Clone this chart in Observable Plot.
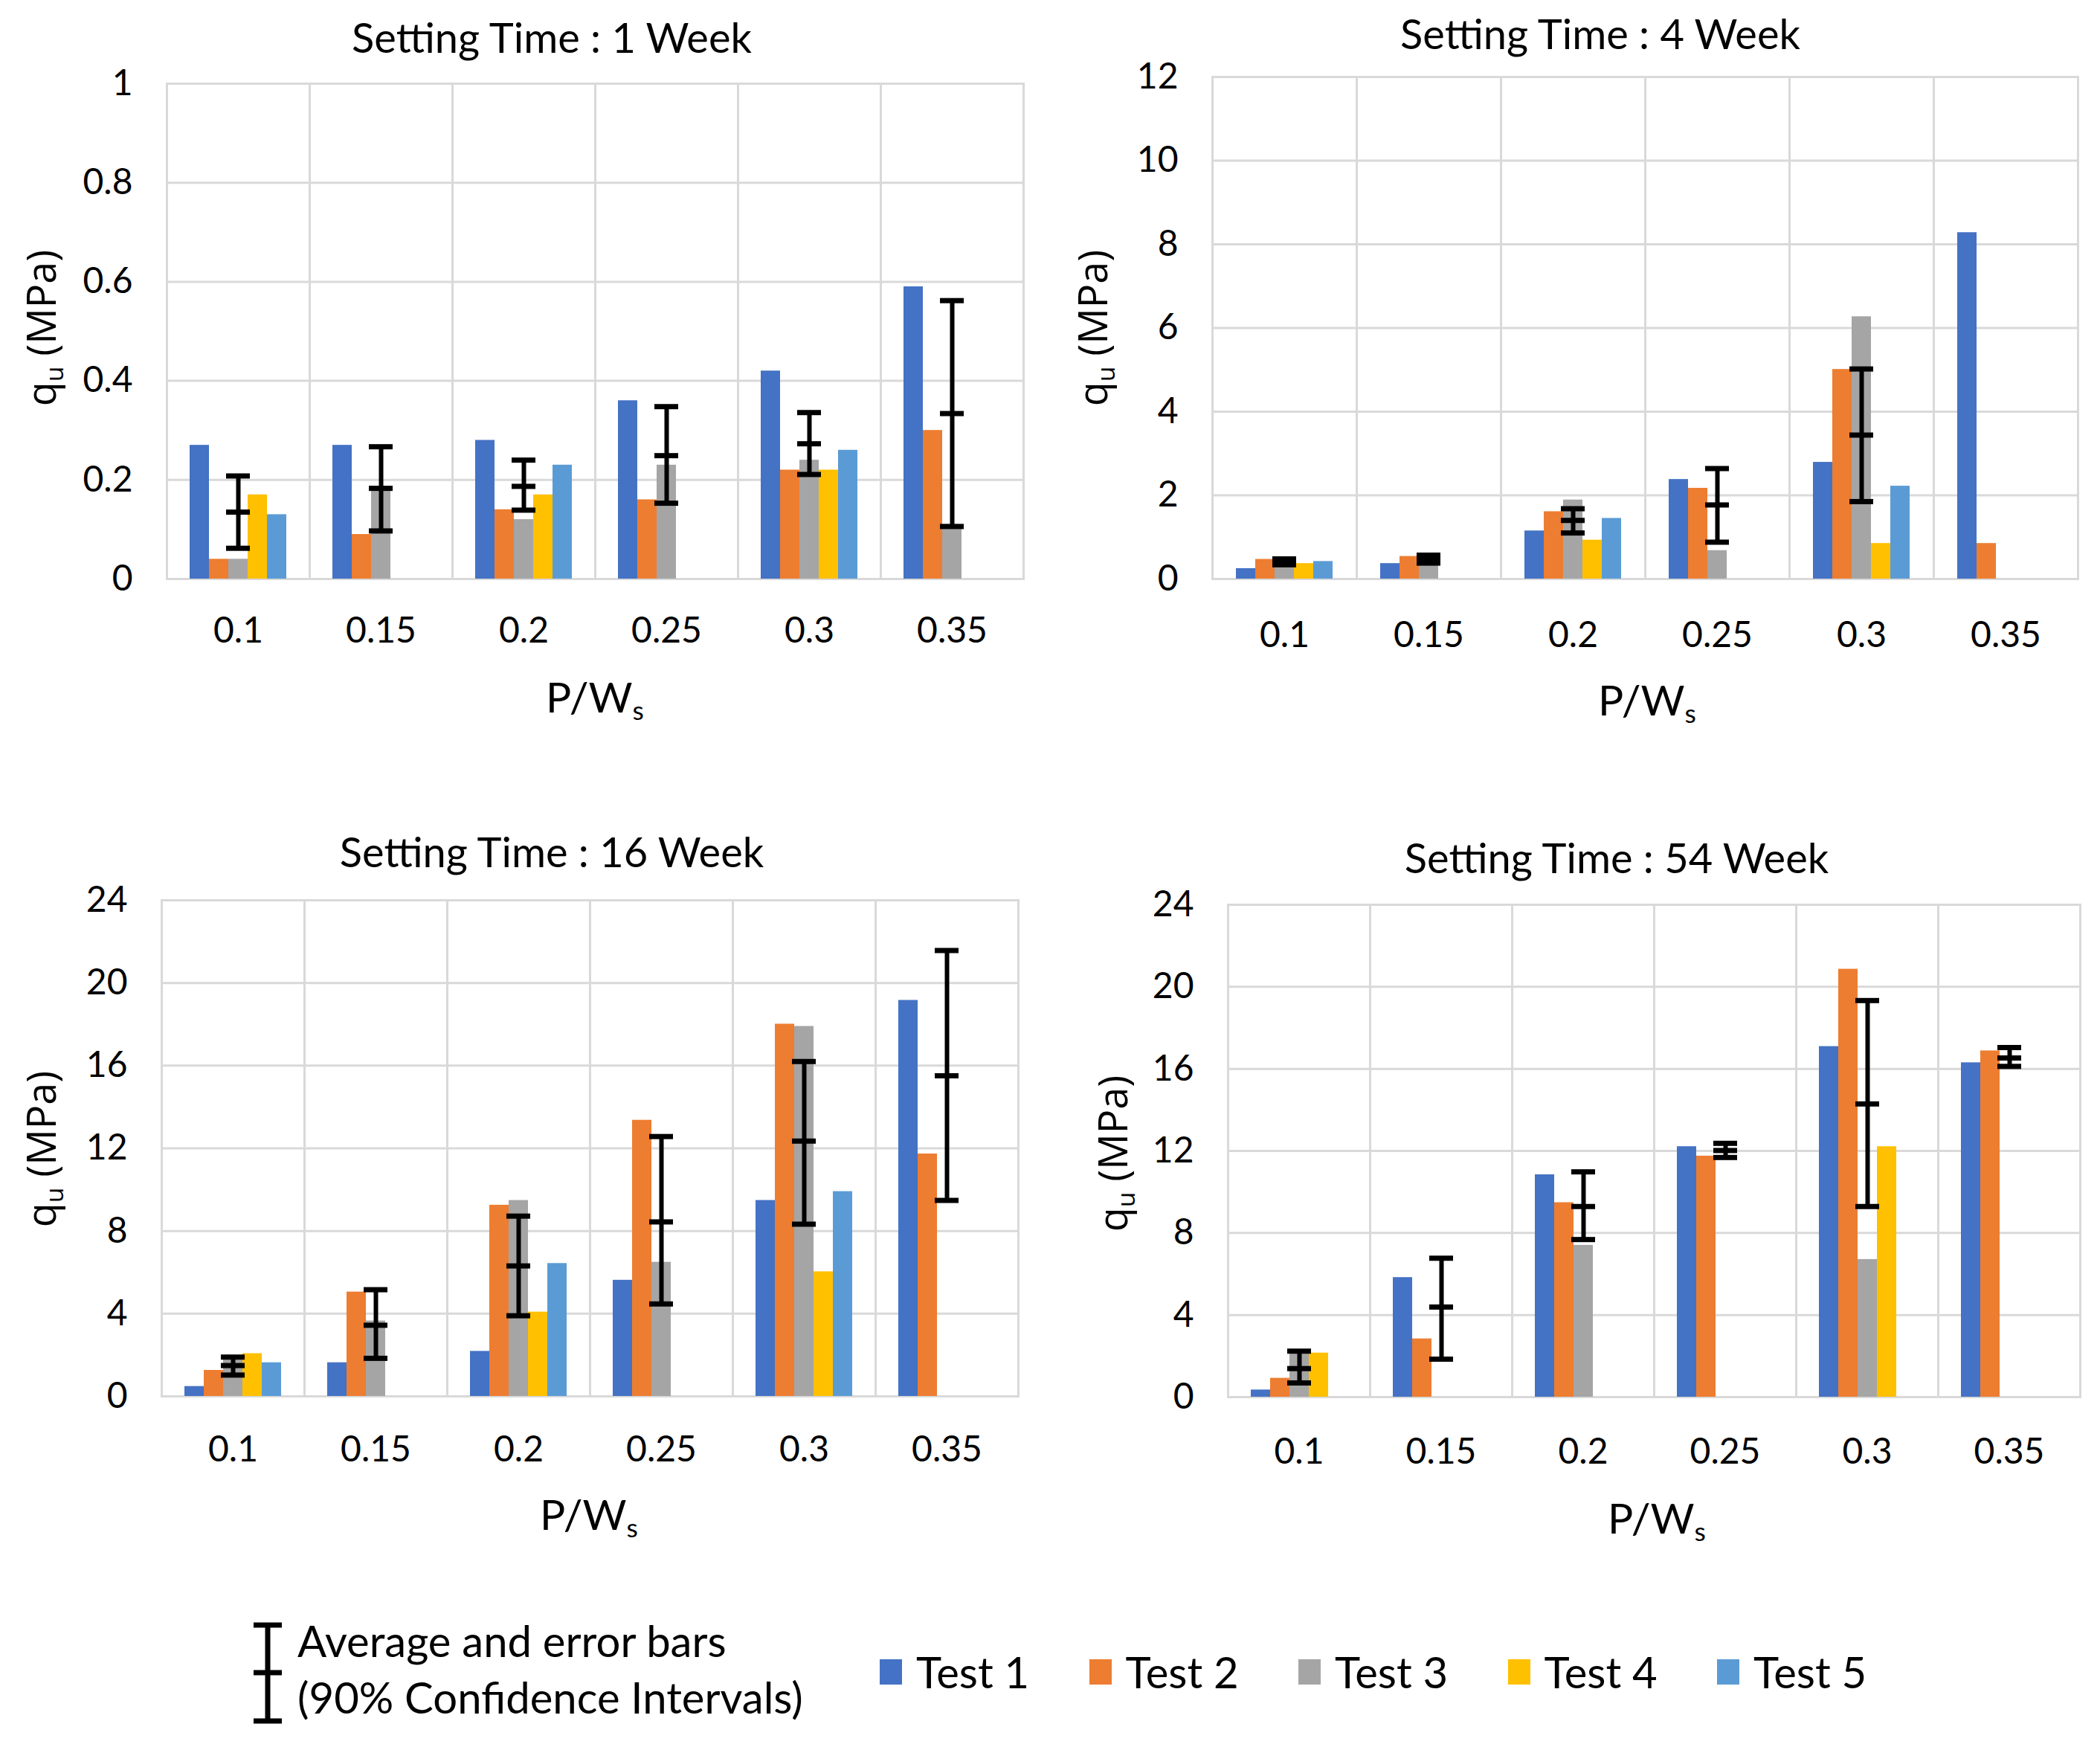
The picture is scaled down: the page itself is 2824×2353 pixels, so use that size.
<!DOCTYPE html>
<html><head><meta charset="utf-8">
<script src="https://cdn.jsdelivr.net/npm/d3@7"></script>
<script src="https://cdn.jsdelivr.net/npm/@observablehq/plot@0.6"></script>
<style>
body{margin:0;background:#fff;}
#wrap{position:relative;width:2824px;height:2353px;background:#fff;overflow:hidden;font-family:Lato,sans-serif;color:#000;}
.abs{position:absolute;white-space:nowrap;line-height:1;}
.title{font-size:56px;transform:translate(-50%,-50%);}
.xt{font-size:57px;transform:translate(-50%,-50%);}
.yt{font-family:"Open Sans",sans-serif;font-size:54px;transform:translate(-50%,-50%) rotate(-90deg);}
sub{font-size:0.62em;vertical-align:-0.3em;line-height:0;}
.panel{position:absolute;}
.leg{font-size:58px;}
.sw{position:absolute;width:30px;height:34px;}
</style></head><body><div id="wrap"></div>
<script>
const categories = ["0.1", "0.15", "0.2", "0.25", "0.3", "0.35"];
const tests = ["Test 1", "Test 2", "Test 3", "Test 4", "Test 5"];
const testColors = ["#4472C4", "#ED7D31", "#A5A5A5", "#FFC000", "#5B9BD5"];

// q_u (MPa) per P/Ws category: [Test 1 .. Test 5], null = not tested
const week1 = [
  [0.27, 0.04, 0.04, 0.17, 0.13],
  [0.27, 0.09, 0.18, null, null],
  [0.28, 0.14, 0.12, 0.17, 0.23],
  [0.36, 0.16, 0.23, null, null],
  [0.42, 0.22, 0.24, 0.22, 0.26],
  [0.59, 0.30, 0.11, null, null]
];
const week4 = [
  [0.25, 0.47, 0.45, 0.37, 0.42],
  [0.37, 0.54, 0.50, null, null],
  [1.15, 1.61, 1.89, 0.93, 1.45],
  [2.38, 2.17, 0.68, null, null],
  [2.79, 5.01, 6.27, 0.85, 2.22],
  [8.28, 0.85, null, null, null]
];
const week16 = [
  [0.48, 1.26, 1.8, 2.07, 1.63],
  [1.63, 5.05, 3.65, null, null],
  [2.18, 9.25, 9.48, 4.08, 6.43],
  [5.62, 13.36, 6.49, null, null],
  [9.48, 18.01, 17.90, 6.03, 9.91],
  [19.16, 11.73, null, null, null]
];
const week54 = [
  [0.35, 0.92, 2.1, 2.15, null],
  [5.83, 2.84, null, null, null],
  [10.84, 9.48, 7.40, null, null],
  [12.21, 11.75, null, null, null],
  [17.09, 20.86, 6.71, 12.21, null],
  [16.30, 16.88, null, null, null]
];

// average and 90% confidence interval: [low, mean, high]
const week1Err = [[0.062, 0.135, 0.208], [0.097, 0.183, 0.267], [0.139, 0.187, 0.240], [0.153, 0.249, 0.348], [0.211, 0.273, 0.336], [0.106, 0.334, 0.562]];
const week4Err = [[0.34, 0.41, 0.48], [0.38, 0.47, 0.57], [1.10, 1.40, 1.68], [0.88, 1.77, 2.64], [1.85, 3.44, 5.02], null];
const week16Err = [[1.03, 1.49, 1.90], [1.84, 3.44, 5.16], [3.90, 6.31, 8.72], [4.47, 8.44, 12.57], [8.33, 12.35, 16.2], [9.48, 15.51, 21.57]];
const week54Err = [[0.69, 1.39, 2.24], [1.85, 4.39, 6.77], [7.68, 9.29, 10.98], [11.68, 12.02, 12.37], [9.29, 14.29, 19.33], [16.12, 16.53, 17.04]];

const ticks1 = [0, 0.2, 0.4, 0.6, 0.8, 1];
const ticks4 = [0, 2, 4, 6, 8, 10, 12];
const ticks16 = [0, 4, 8, 12, 16, 20, 24];
const ticks54 = [0, 4, 8, 12, 16, 20, 24];

const titles = ["Setting Time : 1 Week", "Setting Time : 4 Week", "Setting Time : 16 Week", "Setting Time : 54 Week"];

const panels = [
  {values: week1, err: week1Err, ticks: ticks1, title: titles[0], left: 0, top: 0, ml: 222, mr: 34, mt: 112, mb: 222, fxPad: 51,
   titlePos: [742, 50], yPos: [54, 441], xPos: [800, 936]},
  {values: week4, err: week4Err, ticks: ticks4, title: titles[1], left: 1412, top: 0, ml: 216, mr: 29, mt: 103, mb: 222, fxPad: 57,
   titlePos: [2152, 45], yPos: [1468, 441], xPos: [2215, 940]},
  {values: week16, err: week16Err, ticks: ticks16, title: titles[2], left: 0, top: 1100, ml: 215, mr: 42, mt: 110, mb: 223, fxPad: 53,
   titlePos: [742, 1145], yPos: [54, 1545], xPos: [792, 2035]},
  {values: week54, err: week54Err, ticks: ticks54, title: titles[3], left: 1412, top: 1100, ml: 238, mr: 27, mt: 116, mb: 222, fxPad: 55,
   titlePos: [2174, 1153], yPos: [1495, 1551], xPos: [2228, 2040]}
];

const wrap = document.getElementById("wrap");
const fmt = d => String(+(+d).toFixed(2));

function addText(cls, pos, html) {
  const el = document.createElement("div");
  el.className = "abs " + cls;
  el.style.left = pos[0] + "px";
  el.style.top = pos[1] + "px";
  el.innerHTML = html;
  wrap.appendChild(el);
}

for (const p of panels) {
  const bars = [];
  p.values.forEach((row, i) => row.forEach((v, j) => {
    if (v != null) bars.push({cat: categories[i], test: tests[j], value: v});
  }));
  const errs = [];
  p.err.forEach((e, i) => { if (e) errs.push({cat: categories[i], low: e[0], mean: e[1], high: e[2]}); });
  const mid = () => tests[2];
  const chart = Plot.plot({
    width: 1412, height: 1000,
    marginLeft: p.ml, marginRight: p.mr, marginTop: p.mt, marginBottom: p.mb,
    style: {fontFamily: "Lato, sans-serif", fontSize: "48px", color: "#000", background: "transparent", overflow: "visible"},
    fx: {domain: categories, padding: 0, label: null, tickSize: 0, tickPadding: p.fxPad},
    x: {domain: tests, paddingInner: 0, paddingOuter: 1.12, axis: null},
    y: {domain: [0, p.ticks[p.ticks.length - 1]], axis: null},
    color: {domain: tests, range: testColors},
    marks: [
      Plot.gridY(p.ticks, {stroke: "#d9d9d9", strokeOpacity: 1, strokeWidth: 3}),
      Plot.frame({stroke: "#d9d9d9", strokeWidth: 3}),
      Plot.axisY(p.ticks, {tickSize: 0, tickPadding: 46, label: null, tickFormat: fmt, fontSize: 48}),
      Plot.barY(bars, {fx: "cat", x: "test", y: "value", fill: "test"}),
      Plot.ruleX(errs, {fx: "cat", x: mid, y1: "low", y2: "high", stroke: "#000", strokeWidth: 6}),
      Plot.tickY(errs, {fx: "cat", x: mid, y: "low", stroke: "#000", strokeWidth: 7, insetLeft: -3, insetRight: -3}),
      Plot.tickY(errs, {fx: "cat", x: mid, y: "mean", stroke: "#000", strokeWidth: 7, insetLeft: -3, insetRight: -3}),
      Plot.tickY(errs, {fx: "cat", x: mid, y: "high", stroke: "#000", strokeWidth: 7, insetLeft: -3, insetRight: -3})
    ]
  });
  const holder = document.createElement("div");
  holder.className = "panel";
  holder.style.left = p.left + "px";
  holder.style.top = p.top + "px";
  holder.appendChild(chart);
  wrap.appendChild(holder);
  addText("title", p.titlePos, p.title);
  addText("yt", p.yPos, "q<sub>u</sub> (MPa)");
  addText("xt", p.xPos, "P/W<sub>s</sub>");
}

// legend
const errIcon = document.createElement("div");
errIcon.className = "abs";
errIcon.style.left = "340px";
errIcon.style.top = "2180px";
errIcon.innerHTML = '<svg width="40" height="140" viewBox="0 0 40 140"><g stroke="#000" stroke-width="7"><line x1="20" y1="5" x2="20" y2="134"/><line x1="1" y1="5" x2="39" y2="5"/><line x1="1" y1="69" x2="39" y2="69"/><line x1="1" y1="134" x2="39" y2="134"/></g></svg>';
wrap.appendChild(errIcon);
const l1 = document.createElement("div");
l1.className = "abs leg"; l1.style.left = "400px"; l1.style.top = "2206px"; l1.style.transform = "translateY(-50%)";
l1.textContent = "Average and error bars";
wrap.appendChild(l1);
const l2 = document.createElement("div");
l2.className = "abs leg"; l2.style.left = "400px"; l2.style.top = "2282px"; l2.style.transform = "translateY(-50%)";
l2.textContent = "(90% Confidence Intervals)";
wrap.appendChild(l2);
tests.forEach((t, i) => {
  const x = 1183 + i * 281.5;
  const sw = document.createElement("div");
  sw.className = "sw"; sw.style.left = x + "px"; sw.style.top = (2248 - 17) + "px"; sw.style.background = testColors[i];
  wrap.appendChild(sw);
  const tx = document.createElement("div");
  tx.className = "abs leg"; tx.style.left = (x + 49) + "px"; tx.style.top = "2248px"; tx.style.transform = "translateY(-50%)";
  tx.textContent = t;
  wrap.appendChild(tx);
});
</script></body></html>
